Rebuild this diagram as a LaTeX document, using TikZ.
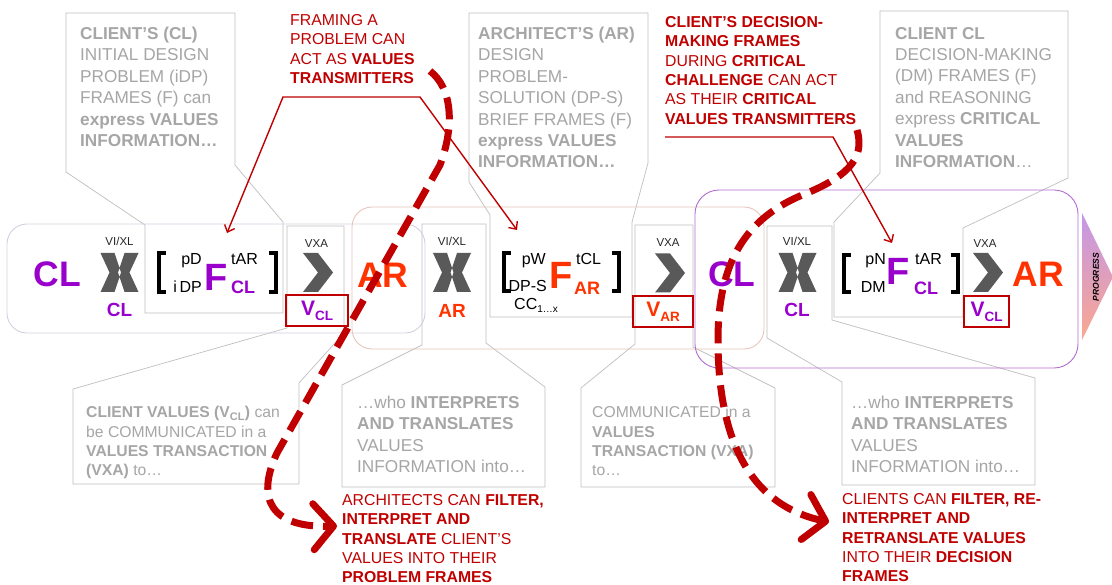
\documentclass[tikz,border=0pt]{standalone}
\usepackage{fontspec}
\setmainfont{Liberation Sans}
\usetikzlibrary{arrows.meta}

\definecolor{clpurple}{RGB}{153,0,204}
\definecolor{arorange}{RGB}{255,51,0}
\definecolor{notegray}{RGB}{166,166,166}
\definecolor{edgegray}{RGB}{191,191,191}
\definecolor{valred}{RGB}{192,0,0}
\definecolor{markgray}{RGB}{89,89,89}
\definecolor{lavedge}{RGB}{214,206,224}
\definecolor{pinkedge}{RGB}{230,196,186}
\definecolor{purpedge}{RGB}{178,108,210}
\definecolor{progtop}{RGB}{196,150,230}
\definecolor{progbot}{RGB}{250,168,145}

\newcommand{\fsz}[1]{\fontsize{#1}{#1}\selectfont}

% X mark (interpretation / translation)
\newcommand{\crossmark}[2]{%
  \fill[markgray,shift={(#1,#2)}]
    (-19,-19.5) -- (-5,-19.5) -- (1.5,0) -- (-5,19.5) -- (-19,19.5) -- (-10,0) -- cycle
    (19,-19.5) -- (5,-19.5) -- (-1.5,0) -- (5,19.5) -- (19,19.5) -- (10,0) -- cycle;}
% chevron of a values transaction
\newcommand{\sendmark}[2]{%
  \fill[markgray,shift={(#1,#2)}]
    (-15,-19.5) -- (0,-19.5) -- (15,0) -- (0,19.5) -- (-15,19.5) -- (0,0) -- cycle;}
% square brackets round a frame
\newcommand{\framebrackets}[4]{%
  \draw[line width=3.4pt] (#1+7,#3) -| (#1,#4) -- (#1+7,#4);
  \draw[line width=3.4pt] (#2-7,#3) -| (#2,#4) -- (#2-7,#4);}

\begin{document}
\begin{tikzpicture}[x=1pt,y=-1pt,
  >={Straight Barb[length=6pt,width=11pt]},
  callout/.style={draw=edgegray,fill=white,line width=0.7pt},
  rowbox/.style={rounded corners=20pt,line width=0.9pt},
  graynote/.style={anchor=north west,inner sep=0pt,align=left,text=notegray,font=\fontsize{17.2}{21.4}\selectfont},
  smallnote/.style={graynote,font=\fontsize{15.7}{19.2}\selectfont},
  rednote/.style={anchor=north west,inner sep=0pt,align=left,text=valred,font=\fontsize{15.8}{19.3}\selectfont},
  actor/.style={anchor=base,inner sep=0pt,font=\fsz{35.5}\bfseries},
  actorsub/.style={anchor=base,inner sep=0pt,font=\fsz{19}\bfseries},
  tagtext/.style={anchor=base,inner sep=0pt,font=\fsz{11.5},text=black!85},
  ftag/.style={inner sep=0pt,font=\fsz{16}},
  fsub/.style={anchor=base west,inner sep=0pt,font=\fsz{18}\bfseries},
  bigf/.style={anchor=base west,inner sep=0pt,font=\fsz{38}\bfseries},
  valbox/.style={draw=valred,line width=2pt,inner sep=0pt,minimum height=31pt,font=\fsz{21}\bfseries},
  pointer/.style={valred,line width=1.4pt},
  flow/.style={valred,line width=7pt,dash pattern=on 22pt off 10pt,
    -{Straight Barb[length=20pt,width=46pt,round]}}]
  \useasboundingbox (0,0) rectangle (1112,585);

  %%% callouts (drawn first, the row runs over them)
  \draw[callout] (66,13) -- (235,13) -- (235,165) -- (283,222) -- (283,313) -- (145,313) -- (145,225) -- (66,172) -- cycle;
  \draw[callout] (469,13) -- (648,13) -- (648,163) -- (632,222) -- (632,317) -- (490,317) -- (490,215) -- (469,182) -- cycle;
  \draw[callout] (880,11) -- (1068,11) -- (1068,178) -- (963,228) -- (963,317) -- (834,317) -- (834,222) -- (880,173) -- cycle;
  \draw[callout] (287,226) -- (344,226) -- (344,333) -- (299,383) -- (299,484) -- (73,484) -- (73,389) -- (287,328) -- cycle;
  \draw[callout] (422,224) -- (486,224) -- (486,343) -- (545,387) -- (545,487) -- (342,487) -- (342,385) -- (422,345) -- cycle;
  \draw[callout] (635,225) -- (693,225) -- (693,347) -- (775,388) -- (775,487) -- (581,487) -- (581,388) -- (635,344) -- cycle;
  \draw[callout] (767,226) -- (832,226) -- (832,320) -- (1035,378) -- (1035,485) -- (842,485) -- (842,382) -- (767,338) -- cycle;

  %%% row boxes
  \draw[rowbox,draw=lavedge] (7,224) rectangle (425,333);
  \draw[rowbox,draw=pinkedge] (352,207) rectangle (764,349);
  \draw[rowbox,draw=purpedge,rounded corners=24pt] (695,190) rectangle (1078,368);

  %%% progress arrow
  \shade[top color=progtop,middle color=white,bottom color=progbot] (1082,213) -- (1113,277) -- (1082,340) -- cycle;
  \node[rotate=90,inner sep=0pt,font=\fsz{8.5}\bfseries\itshape] (prog) at (1096,277) {PROGRESS};

  %%% client frame
  \node[actor,text=clpurple] (cl1) at (57.5,287) {CL};
  \node[tagtext] (vi1) at (119.5,246) {VI/XL};
  \crossmark{119.5}{272.5}
  \node[actorsub,text=clpurple] (cl1x) at (119.5,317) {CL};
  \framebrackets{159}{276}{253}{292}
  \node[ftag,anchor=base east] (pd1) at (202,265) {pD};
  \node[ftag,anchor=base east] (idp1) at (202,293) {i\,DP};
  \node[bigf,text=clpurple] (f1) at (204,291) {F};
  \node[ftag,anchor=base west] (tar1) at (231,265) {tAR};
  \node[fsub,text=clpurple] (clf1) at (231,294) {CL};
  \node[tagtext] (vxa1) at (316.5,248) {VXA};
  \sendmark{318}{272.5}
  \node[valbox,minimum width=62pt,text=clpurple] (vcl1) at (317,311) {V\raisebox{-5pt}{\fsz{13.5}CL}};
  \node[actor,text=arorange] (ar1) at (383,288) {AR};

  %%% architect frame
  \node[tagtext] (vi2) at (452,246) {VI/XL};
  \crossmark{452}{272.5}
  \node[actorsub,text=arorange] (ar2x) at (452,318) {AR};
  \framebrackets{504}{619}{253}{291}
  \node[ftag,anchor=base east] (pw2) at (546,265) {pW};
  \node[ftag,anchor=base east] (dps2) at (547,292) {DP-S};
  \node[ftag,anchor=base west] (cc2) at (514,310) {CC\raisebox{-3pt}{\fsz{10}1…x}};
  \node[bigf,text=arorange] (f2) at (549,289) {F};
  \node[ftag,anchor=base west] (tcl2) at (576,265) {tCL};
  \node[fsub,text=arorange] (arf2) at (574,295) {AR};
  \node[tagtext] (vxa2) at (668,247) {VXA};
  \sendmark{670}{273}
  \node[valbox,minimum width=60pt,text=arorange] (var2) at (663,311.5) {V\raisebox{-5pt}{\fsz{13.5}AR}};
  \node[actor,text=clpurple] (cl3) at (732,287) {CL};

  %%% client decision frame
  \node[tagtext] (vi3) at (797,246) {VI/XL};
  \crossmark{797.5}{272.5}
  \node[actorsub,text=clpurple] (cl3x) at (797,317) {CL};
  \framebrackets{844}{958}{255}{292}
  \node[ftag,anchor=base east] (pn3) at (886,265) {pN};
  \node[ftag,anchor=base east] (dm3) at (886,293) {DM};
  \node[bigf,text=clpurple] (f3) at (886,285) {F};
  \node[ftag,anchor=base west] (tar3) at (915,265) {tAR};
  \node[fsub,text=clpurple] (clf3) at (914,295) {CL};
  \node[tagtext] (vxa3) at (985,248) {VXA};
  \sendmark{988}{272.5}
  \node[valbox,minimum width=45pt,text=clpurple] (vcl3) at (986.5,311.5) {V\raisebox{-5pt}{\fsz{13.5}CL}};
  \node[actor,text=arorange] (ar3) at (1038.5,287) {AR};

  %%% gray notes
  \node[graynote] (n1) at (80,26.8) {\textbf{CLIENT'S (CL)}\\INITIAL DESIGN\\PROBLEM (iDP)\\FRAMES (F) can\\\textbf{express VALUES}\\\textbf{INFORMATION…}};
  \node[graynote] (n2) at (478,26.8) {\textbf{ARCHITECT'S (AR)}\\DESIGN\\PROBLEM-\\SOLUTION (DP-S)\\BRIEF FRAMES (F)\\\textbf{express VALUES}\\\textbf{INFORMATION…}};
  \node[graynote] (n3) at (895,26.8) {\textbf{CLIENT CL}\\DECISION-MAKING\\(DM) FRAMES (F)\\and REASONING\\express \textbf{CRITICAL}\\\textbf{VALUES}\\\textbf{INFORMATION}…};
  \node[smallnote] (n4) at (86,406.4) {\textbf{CLIENT VALUES (V\textsubscript{CL})} can\\be COMMUNICATED in a\\\textbf{VALUES TRANSACTION}\\\textbf{(VXA)} to…};
  \node[graynote] (n5) at (357,395.7) {…who \textbf{INTERPRETS}\\\textbf{AND TRANSLATES}\\VALUES\\INFORMATION into…};
  \node[smallnote] (n6) at (592,406.4) {COMMUNICATED in a\\\textbf{VALUES}\\\textbf{TRANSACTION (VXA)}\\to…};
  \node[graynote] (n7) at (851,395.7) {…who \textbf{INTERPRETS}\\\textbf{AND TRANSLATES}\\VALUES\\INFORMATION into…};

  %%% red notes
  \node[rednote] (r1) at (290,14.3) {FRAMING A\\PROBLEM CAN\\ACT AS \textbf{VALUES}\\\textbf{TRANSMITTERS}};
  \node[rednote] (r2) at (665,16.3) {\textbf{CLIENT'S DECISION-}\\\textbf{MAKING FRAMES}\\DURING \textbf{CRITICAL}\\\textbf{CHALLENGE} CAN ACT\\AS THEIR \textbf{CRITICAL}\\\textbf{VALUES TRANSMITTERS}};
  \node[rednote] (r3) at (342,494.3) {ARCHITECTS CAN \textbf{FILTER,}\\\textbf{INTERPRET AND}\\\textbf{TRANSLATE} CLIENT'S\\VALUES INTO THEIR\\\textbf{PROBLEM FRAMES}};
  \node[rednote] (r4) at (842,493.3) {CLIENTS CAN \textbf{FILTER, RE-}\\\textbf{INTERPRET AND}\\\textbf{RETRANSLATE VALUES}\\INTO THEIR \textbf{DECISION}\\\textbf{FRAMES}};

  %%% pointers from the red notes
  \coordinate (fr1) at (283,97);
  \coordinate (fr2) at (420,97);
  \coordinate (tipa) at (227,233);
  \coordinate (tipb) at (517,230);
  \draw[pointer,<->] (tipa) -- (fr1) -- (fr2) -- (tipb);
  \coordinate (dm1) at (665,137);
  \coordinate (dm2) at (833,137);
  \coordinate (tipc) at (892,243);
  \draw[pointer,->] (dm1) -- (dm2) -- (tipc);

  %%% values flows
  \coordinate (fstart) at (430,71);
  \coordinate (fend) at (337,526);
  \draw[flow] (fstart) .. controls (452,88) and (455,125) .. (440,165) -- (277,453)
    .. controls (255,500) and (272,528) .. (fend);
  \coordinate (dstart) at (857,130);
  \coordinate (dend) at (829,522);
  \draw[flow] (dstart) .. controls (866,160) and (845,178) .. (800,196)
    .. controls (740,222) and (718,270) .. (718,340)
    .. controls (718,440) and (750,505) .. (dend);
\end{tikzpicture}
\end{document}
